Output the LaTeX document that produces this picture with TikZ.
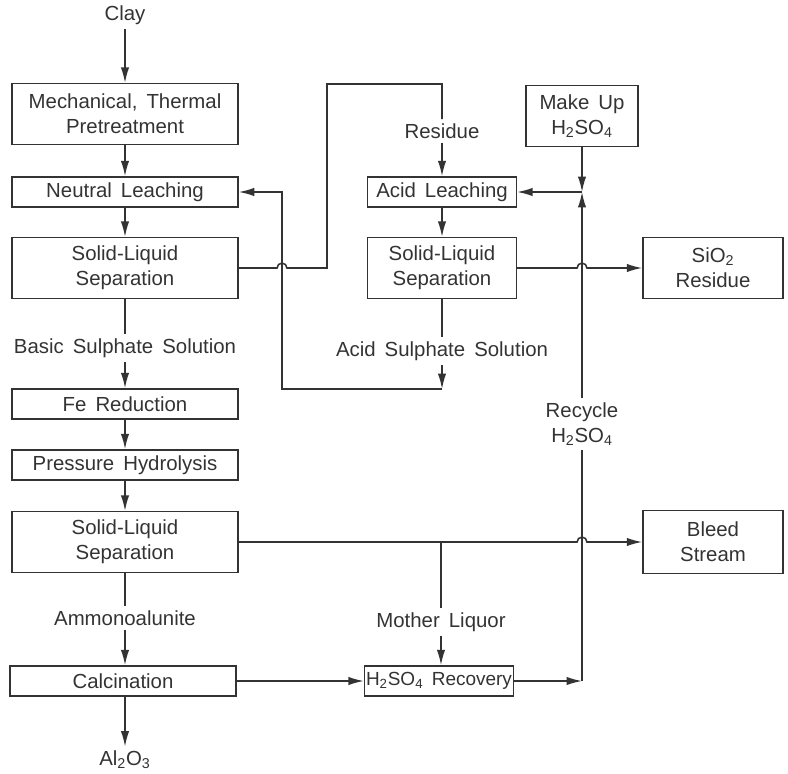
\documentclass[tikz,border=0pt]{standalone}
\usepackage{fontspec}
\setmainfont{Liberation Sans}[WordSpace=1.6]
\usetikzlibrary{arrows.meta}
\definecolor{ink}{HTML}{333333}

\begin{document}
\begin{tikzpicture}[x=0.025cm, y=-0.025cm,
    font=\fontsize{14.5}{18}\selectfont, text=ink,
    proc/.style={draw=ink, line width=1.1pt, inner sep=1pt, align=center},
    flat/.style={minimum height=0.75cm},
    tall/.style={minimum height=1.52cm},
    lcol/.style={minimum width=5.65cm},
    rcol/.style={minimum width=3.72cm},
    ocol/.style={minimum width=3.5cm},
    tag/.style={inner sep=3pt, align=center},
    pipe/.style={draw=ink, line width=1.1pt},
    feed/.style={pipe, -{Latex[length=11pt,width=6pt]}}]
      \useasboundingbox (0,0) rectangle (788,774);
      % Main Line
      \node[tag] (clay) at (125, 15) {Clay};
      \node[proc, tall, lcol] (mech) at (125, 114) {Mechanical, Thermal\\Pretreatment};
      \node[proc, flat, lcol] (neutral) at (125, 192) {Neutral Leaching};
      \node[proc, tall, lcol] (sl1) at (125, 268) {Solid-Liquid\\Separation};
      \node[tag] (basic) at (125, 348) {Basic Sulphate Solution};
      \node[proc, flat, lcol] (fe) at (125, 404) {Fe Reduction};
      \node[proc, flat, lcol] (press) at (125, 465) {Pressure Hydrolysis};
      \node[proc, tall, lcol] (sl3) at (125, 542) {Solid-Liquid\\Separation};
      \node[tag] (ammono) at (125, 618) {Ammonoalunite};
      \node[proc, flat, lcol] (calc) at (123, 681) {Calcination};
      \node[tag] (alox) at (125, 760) {Al\textsubscript{2}O\textsubscript{3}};
      % Acid Loop
      \node[tag] (residue) at (442, 131) {Residue};
      \node[proc, flat, rcol] (acidl) at (442, 192) {Acid Leaching};
      \node[proc, tall, rcol] (sl2) at (442, 268) {Solid-Liquid\\Separation};
      \node[tag] (acidsul) at (442, 351) {Acid Sulphate Solution};
      \node[proc, tall, minimum width=2.8cm] (makeup) at (582, 116) {Make Up\\H\textsubscript{2}SO\textsubscript{4}};
      \node[proc, tall, ocol] (sio2) at (713, 268) {SiO\textsubscript{2}\\Residue};
      \node[tag] (recycle) at (582, 424) {Recycle\\H\textsubscript{2}SO\textsubscript{4}};
      \node[proc, tall, ocol, minimum height=1.57cm] (bleed) at (713, 542) {Bleed\\Stream};
      \node[tag] (mother) at (441, 622) {Mother Liquor};
      \node[proc, flat, rcol, inner sep=0pt, font=\fontsize{13.5}{18}\selectfont] (rec) at (439, 681) {H\textsubscript{2}SO\textsubscript{4} Recovery};
      % Corners and Crossings
      \coordinate (hop1) at (282, 268);
      \coordinate (hop2) at (582, 268);
      \coordinate (hop3) at (582, 542);
      \coordinate (up1) at (327, 84);
      \coordinate (ret) at (442, 389);
      \coordinate (jn) at (582, 192);
      \coordinate (rcy) at (582, 681);
      \coordinate (br) at (441, 542);
      % Main Line Edges
      \draw[feed] (clay) -- (mech);
      \draw[feed] (mech) -- (neutral);
      \draw[feed] (neutral) -- (sl1);
      \draw[pipe] (sl1) -- (basic);
      \draw[feed] (basic) -- (fe);
      \draw[feed] (fe) -- (press);
      \draw[feed] (press) -- (sl3);
      \draw[pipe] (sl3) -- (ammono);
      \draw[feed] (ammono) -- (calc.north -| ammono);
      \draw[feed] (calc.south -| alox) -- (alox);
      % Residue to Acid Leaching
      \draw[pipe] (sl1.east) -- ([xshift=-3.5pt]hop1) arc[start angle=180, end angle=0, radius=3.5pt]
            -- (up1 |- hop1) -- (up1) -| (residue.north);
      \draw[feed] (residue) -- (acidl);
      \draw[feed] (acidl) -- (sl2);
      \draw[pipe] (sl2) -- (acidsul);
      % Acid Sulphate back to Neutral Leaching
      \draw[feed] (acidsul) -- (ret);
      \draw[feed] (ret) -| (hop1) |- (neutral.east);
      % Acid Make Up and Recycle
      \draw[feed] (makeup) -- (jn);
      \draw[feed] (recycle) -- (jn);
      \draw[feed] (jn) -- (acidl.east);
      \draw[feed] (sl2.east) -- ([xshift=-3.5pt]hop2) arc[start angle=180, end angle=0, radius=3.5pt] -- (sio2.west);
      % Mother Liquor
      \draw[feed] (sl3.east) -- ([xshift=-3.5pt]hop3) arc[start angle=180, end angle=0, radius=3.5pt] -- (bleed.west);
      \draw[pipe] (br) -- (mother);
      \draw[feed] (mother) -- (rec.north -| mother);
      \draw[feed] (calc.east) -- (rec.west);
      \draw[feed] (rec.east) -- (rcy);
      \draw[pipe] (rcy) -- (recycle);
\end{tikzpicture}
\end{document}
